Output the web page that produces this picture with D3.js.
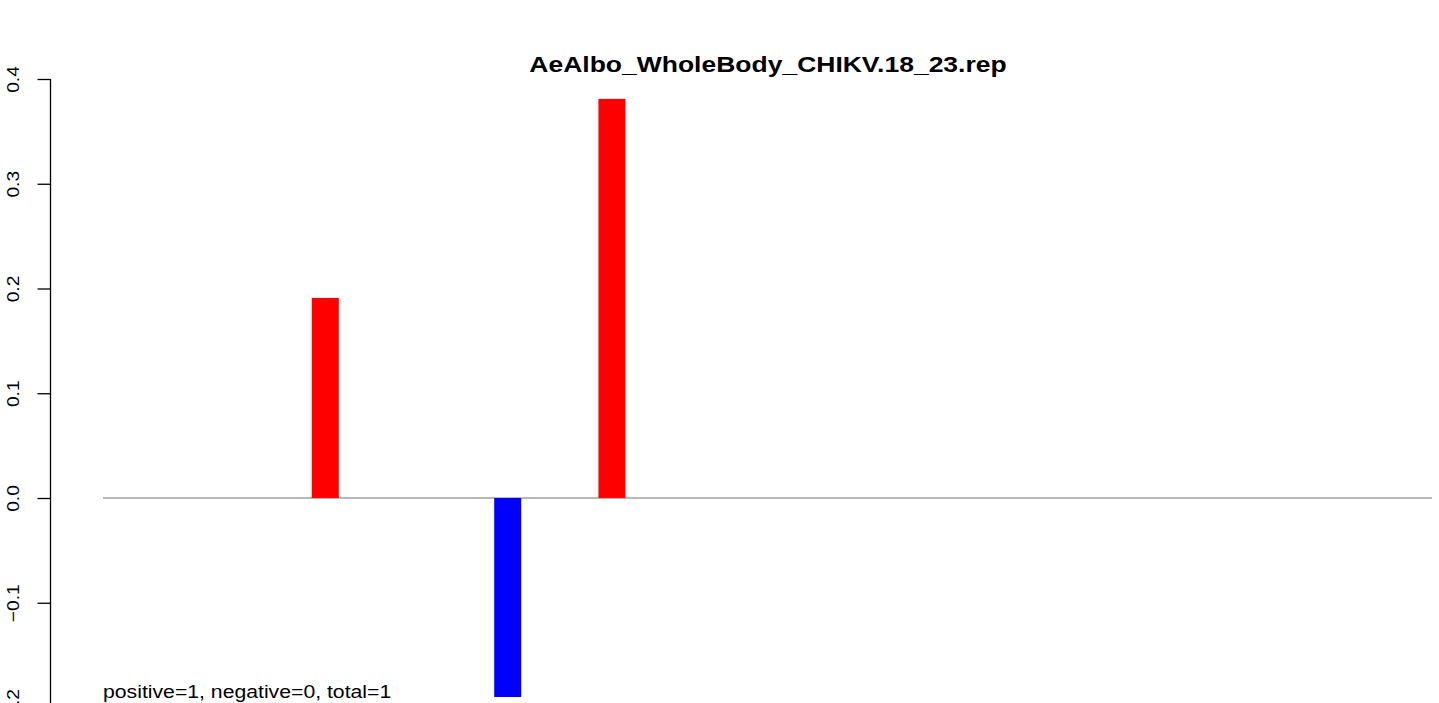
<!DOCTYPE html>
<html>
<head>
<meta charset="utf-8">
<script src="https://cdn.jsdelivr.net/npm/d3@7"></script>
<style>
  html, body { margin: 0; padding: 0; background: #fff; }
  svg { display: block; }
  text { font-family: "Liberation Sans", Arial, Helvetica, sans-serif; }
</style>
</head>
<body>
<svg id="chart" width="1439" height="703"></svg>
<script>
// ---- data ----
const title = "AeAlbo_WholeBody_CHIKV.18_23.rep";
const positions = [9, 16, 20];
const values = [0.191, -0.19, 0.381];
const colors = ["#ff0000", "#0000ff", "#ff0000"];
const yTicks = [-0.2, -0.1, 0.0, 0.1, 0.2, 0.3, 0.4];
const xExtent = [0.5, 51.5];
const note = "positive=1, negative=0, total=1";

// ---- layout ----
const svg = d3.select("#chart");
const x = d3.scaleLinear().domain(xExtent).range([103, 1432]);
const y = d3.scaleLinear().domain([0, 0.4]).range([498, 79]);
const barW = 27;

// y axis
const axisX = 50.5;
const yAxis = d3.axisLeft(y).tickValues(yTicks).tickSize(13).tickFormat(d3.format(".1f"));
const gAxis = svg.append("g").attr("transform", `translate(${axisX},0)`).call(yAxis);
gAxis.select(".domain").attr("d", `M0,${y(0.4)}V${y(-0.2)}`).attr("stroke", "#000").attr("stroke-width", 1.3);
gAxis.selectAll(".tick line").attr("stroke", "#000").attr("stroke-width", 1.3);
gAxis.selectAll(".tick text")
  .attr("font-size", 17.2)
  .attr("fill", "#000")
  .attr("text-anchor", "middle")
  .attr("x", 0).attr("y", 0).attr("dy", null)
  .attr("transform", "translate(-32,0) rotate(-90) scale(1.117,1)");

// zero line
svg.append("line")
  .attr("x1", x(xExtent[0])).attr("x2", x(xExtent[1]))
  .attr("y1", y(0)).attr("y2", y(0))
  .attr("stroke", "#a0a0a0").attr("stroke-width", 1.5);

// bars
svg.selectAll("rect.bar")
  .data(positions.map((p, i) => ({p, v: values[i], c: colors[i]})))
  .enter().append("rect")
  .attr("class", "bar")
  .attr("x", d => x(d.p) - barW / 2 + 0.8)
  .attr("width", barW)
  .attr("y", d => Math.min(y(d.v), y(0)))
  .attr("height", d => Math.abs(y(d.v) - y(0)))
  .attr("fill", d => d.c);

// title
svg.append("text")
  .attr("text-anchor", "middle")
  .attr("font-weight", "bold")
  .attr("font-size", 23)
  .attr("transform", "translate(768,72) scale(1.152,1)")
  .text(title);

// note
svg.append("text")
  .attr("font-size", 17.5)
  .attr("transform", "translate(103,698) scale(1.212,1)")
  .text(note);
</script>
</body>
</html>
